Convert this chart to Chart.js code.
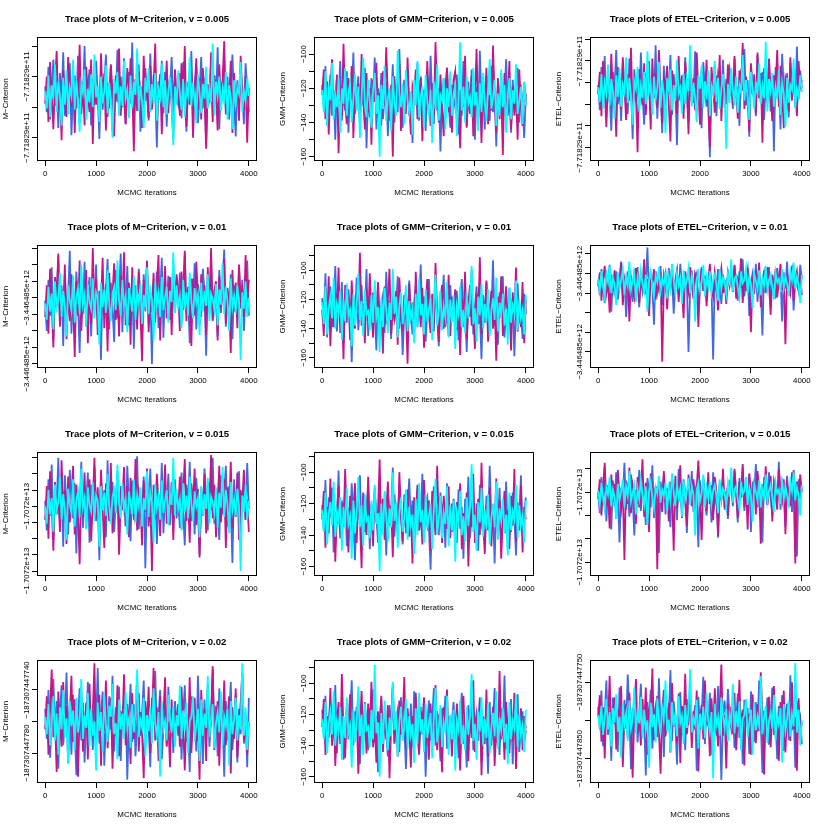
<!DOCTYPE html>
<html>
<head>
<meta charset="utf-8">
<script src="https://cdn.jsdelivr.net/npm/chart.js@4.4.0/dist/chart.umd.min.js"></script>
<style>
  html, body { margin: 0; padding: 0; background: #fff; }
  #wrap { position: relative; width: 830px; height: 830px; }
  #wrap canvas { position: absolute; }
</style>
</head>
<body>
<div id="wrap"></div>
<script>
// x axis
var xTicks = [0, 1000, 2000, 3000, 4000];
var chainColors = ['#4169E1', '#C71585', '#00FFFF'];

// ---- v = 0.005 ----
// M / ETEL values are in relative units; the tick label arrays carry the printed values
var mTicks005 = [20, 45, 70, 95];
var mLabels005 = ['\u22127.71829e+11', '', '\u22127.71829e+11', ''];
var mBlue005 = [62,41,78,35,57,84,46,69,28,73,52,90,38,64,49,81,22,59,71,44,87,33,66,54,95,40,61,76,30,68,47,83,56,19,72,43,63,88,37,58,79,26,65,50,92,39,70,45,85,31,60,74,48,98,36,67,53,80,25,62,42,77,55,34,89,46,71,58,12,66,51,83,40,74,29,63,57,86,44,69,52,47,73,36,82,58,25,66,51,91,40,63,77,32,56,86,44,69,15,61,53,79,38,71,48,94,27,64,57,84,42,70,35,59,88,50,21,67,45,76,55,31,81,60,41];
var mRed005 = [48,70,33,82,55,27,64,91,43,59,18,75,50,37,86,61,45,72,24,67,53,96,39,62,30,78,56,41,84,15,69,47,58,35,89,52,73,26,65,44,80,57,21,71,49,93,38,63,54,31,77,46,85,60,9,68,42,74,55,28,87,50,66,36,79,43,61,97,34,58,72,23,64,51,83,40,70,47,19,76,56,66,38,81,52,95,29,62,47,74,20,58,85,43,69,35,77,54,11,64,49,90,33,71,56,26,80,45,67,99,39,60,52,83,24,73,48,63,34,87,57,42,70,16,61];
var mCyan005 = [58,44,71,37,63,52,80,41,66,55,30,69,47,75,39,61,54,84,43,67,50,25,64,57,76,35,60,49,72,45,88,53,62,33,70,48,58,79,40,65,51,20,68,56,74,38,62,46,83,52,59,36,71,44,66,55,93,42,63,50,28,69,57,77,41,64,48,73,34,60,53,81,45,67,39,58,70,51,14,62,47,75,56,43,68,37,61,54,86,46,65,50,32,72,57,40,64,52,78,44,60,49,97,38,66,55,70,42,59,48,74,35,63,53,27,67,45,61,56,82,41,58,50,69,54];

var gTicks005 = [-160, -150, -140, -130, -120, -110, -100];
var gLabels005 = ['\u2212160', '', '\u2212140', '', '\u2212120', '', '\u2212100'];
var gBlue005 = [-118,-131,-107,-142,-125,-112,-136,-121,-150,-115,-128,-104,-139,-122,-133,-110,-146,-119,-127,-99,-135,-124,-113,-141,-117,-130,-108,-155,-123,-137,-114,-126,-102,-144,-120,-132,-111,-138,-125,-116,-148,-121,-129,-106,-140,-118,-134,-97,-127,-143,-115,-131,-109,-136,-122,-152,-119,-126,-105,-139,-113,-130,-124,-145,-117,-135,-101,-128,-141,-111,-133,-120,-157,-125,-114,-137,-108,-129,-143,-118,-126,-131,-112,-147,-121,-136,-104,-128,-142,-116,-133,-109,-125,-150,-119,-138,-98,-130,-122,-144,-113,-127,-139,-107,-134,-120,-154,-117,-129,-111,-141,-124,-103,-136,-126,-146,-115,-132,-121,-108,-140,-118,-130,-149,-123];
var gRed005 = [-124,-109,-138,-116,-147,-121,-103,-133,-127,-112,-158,-119,-136,-94,-129,-141,-114,-125,-107,-149,-122,-131,-117,-139,-100,-126,-144,-111,-134,-120,-153,-115,-128,-105,-137,-123,-142,-110,-130,-96,-125,-139,-118,-160,-113,-132,-121,-106,-145,-127,-116,-135,-102,-130,-147,-119,-124,-109,-138,-126,-114,-151,-121,-133,-104,-128,-142,-117,-136,-93,-125,-140,-112,-131,-148,-120,-108,-134,-123,-146,-115,-110,-139,-127,-155,-118,-131,-101,-143,-122,-135,-113,-148,-125,-97,-137,-120,-152,-116,-129,-108,-141,-124,-133,-95,-127,-146,-114,-138,-121,-159,-111,-132,-126,-104,-144,-119,-136,-123,-150,-109,-130,-142,-117,-128];
var gCyan005 = [-121,-134,-110,-142,-118,-127,-105,-138,-124,-131,-114,-146,-120,-129,-108,-136,-123,-117,-140,-126,-112,-133,-119,-149,-125,-102,-130,-137,-115,-128,-143,-121,-111,-135,-124,-160,-118,-132,-107,-139,-126,-120,-145,-113,-129,-136,-98,-123,-131,-117,-141,-109,-127,-134,-122,-147,-115,-130,-104,-137,-125,-119,-143,-112,-128,-135,-121,-152,-116,-132,-106,-139,-124,-127,-114,-144,-120,-131,-110,-136,-123,-118,-148,-126,-93,-133,-119,-140,-113,-129,-125,-137,-108,-130,-122,-145,-117,-134,-111,-128,-139,-120,-103,-132,-126,-115,-142,-123,-136,-109,-131,-118,-146,-124,-114,-138,-121,-129,-106,-135,-127,-119,-141,-116,-130];

var eTicks005 = [12, 30, 48, 66, 84, 102];
var eLabels005 = ['\u22127.71829e+11', '', '', '', '\u22127.71829e+11', ''];
var eBlue005 = [64,43,79,52,88,37,70,58,26,75,61,93,48,67,34,82,55,72,40,86,63,19,77,50,69,45,91,57,31,74,62,84,41,66,53,97,36,71,59,24,80,47,68,56,89,39,73,60,14,78,51,65,44,87,58,33,76,63,49,92,42,70,55,28,83,61,46,74,4,67,57,81,38,72,64,50,85,45,69,59,78,71,44,86,53,63,30,77,59,94,47,68,21,81,56,73,38,89,62,50,75,35,66,58,84,42,70,9,79,54,65,27,90,60,48,74,37,83,57,69,45,96,52,76,61];
var eRed005 = [56,75,38,84,61,29,70,49,90,53,66,21,79,58,44,87,63,35,73,51,95,42,68,57,8,77,60,47,82,39,71,65,27,86,54,74,45,93,59,32,69,62,80,48,17,76,56,67,40,88,52,72,36,83,64,23,78,50,70,43,91,58,31,74,66,53,85,46,12,79,61,41,72,57,89,34,68,63,48,81,55,69,47,88,58,36,76,63,99,44,71,55,25,82,60,67,40,91,53,74,16,78,64,49,86,57,34,72,61,93,46,80,56,28,70,65,42,87,51,75,59,38,84,62,68];
var eCyan005 = [62,50,73,44,66,57,81,47,69,59,36,72,54,78,46,64,58,87,49,70,55,31,67,61,79,42,63,53,75,48,92,58,65,39,71,52,61,83,45,68,56,24,70,60,77,43,64,51,85,57,62,40,74,48,69,59,97,46,66,54,33,72,61,80,45,67,52,76,38,63,57,84,50,70,44,61,73,55,11,65,49,78,60,47,71,41,64,58,89,51,68,54,35,75,62,44,67,56,82,48,63,53,100,42,69,59,74,46,62,52,77,39,66,57,29,70,49,64,60,86,45,61,55,72,58];

// ---- v = 0.01 ----
var mTicks01 = [6, 18, 30, 42, 54, 66, 78, 90];
var mLabels01 = ['\u22123.446485e+12', '', '', '', '\u22123.446485e+12', '', '', ''];
var mBlue01 = [52,30,67,41,76,24,58,47,84,35,63,19,71,44,55,88,28,61,38,73,50,14,66,42,80,33,57,69,26,62,46,78,37,54,9,70,43,59,82,31,65,48,22,74,39,56,86,29,60,45,77,34,53,68,17,63,40,75,51,27,71,44,81,36,58,6,66,49,73,32,55,83,25,62,47,70,38,57,79,43,64,50,72,35,61,86,42,56,21,68,47,79,31,64,53,40,75,58,12,69,45,83,37,60,51,26,74,43,66,89,33,57,48,71,24,63,54,39,77,46,67,30,59,81,41];
var mRed01 = [40,63,28,75,49,18,69,55,86,33,60,44,78,24,58,37,71,52,11,66,41,81,30,57,47,74,21,62,35,90,45,68,27,59,50,83,32,64,15,72,43,56,79,38,61,26,70,48,87,34,54,65,20,76,46,59,31,73,42,8,67,53,80,29,57,44,72,36,62,85,23,60,48,77,39,55,69,27,64,51,71,58,30,73,45,88,37,62,52,19,68,41,80,55,34,71,49,63,27,76,43,90,38,59,66,23,70,47,57,82,35,61,51,14,74,44,65,32,78,53,60,40,85,48,67];
var mCyan01 = [50,38,62,44,57,31,66,47,53,72,40,59,48,26,63,52,45,70,36,55,61,42,78,49,56,33,64,51,46,68,39,58,54,20,65,47,60,43,74,50,37,57,62,45,81,52,41,67,48,55,29,61,53,44,70,38,58,50,64,35,56,47,76,42,60,53,23,66,49,57,40,69,45,54,62,36,59,51,87,43,63,48,55,32,67,46,58,41,72,52,39,61,50,56,27,65,44,59,48,71,37,57,53,45,64,34,60,49,79,42,62,51,30,68,47,55,43,63,50,9,58,46,66,40,54];

var gTicks = [-160, -150, -140, -130, -120, -110, -100, -90];
var gLabels = ['\u2212160', '', '\u2212140', '', '\u2212120', '', '\u2212100', ''];
var gBlue01 = [-119,-134,-102,-146,-125,-111,-139,-128,-97,-142,-116,-131,-108,-150,-122,-136,-113,-127,-163,-118,-133,-105,-141,-124,-110,-137,-129,-99,-145,-120,-132,-115,-126,-155,-109,-138,-123,-117,-143,-101,-130,-121,-147,-112,-135,-126,-104,-140,-119,-158,-128,-114,-136,-107,-131,-144,-122,-111,-139,-125,-96,-133,-118,-149,-127,-106,-137,-121,-142,-113,-130,-152,-116,-124,-103,-139,-128,-145,-110,-134,-120,-135,-114,-148,-122,-106,-139,-127,-156,-118,-132,-100,-144,-125,-111,-137,-129,-161,-117,-134,-108,-142,-123,-131,-93,-138,-120,-151,-115,-128,-104,-146,-126,-135,-112,-140,-119,-159,-124,-109,-133,-127,-147,-116,-130];
var gRed01 = [-127,-145,-112,-136,-104,-152,-121,-139,-115,-130,-98,-143,-125,-161,-110,-134,-119,-148,-107,-131,-140,-116,-127,-88,-138,-123,-150,-113,-135,-102,-129,-146,-118,-132,-108,-141,-124,-157,-111,-137,-120,-99,-144,-126,-133,-114,-151,-105,-130,-142,-117,-128,-164,-109,-136,-122,-147,-101,-134,-119,-139,-112,-153,-125,-106,-131,-143,-116,-137,-95,-128,-149,-121,-110,-140,-126,-133,-103,-145,-118,-130,-113,-141,-126,-158,-119,-135,-101,-147,-123,-110,-138,-130,-154,-116,-132,-91,-144,-121,-136,-107,-149,-127,-114,-140,-124,-162,-118,-133,-104,-145,-129,-111,-137,-122,-155,-115,-131,-98,-142,-126,-139,-108,-150,-120];
var gCyan01 = [-122,-137,-111,-144,-126,-118,-133,-105,-140,-123,-129,-114,-148,-120,-135,-109,-131,-127,-152,-116,-138,-124,-102,-134,-121,-145,-113,-130,-128,-141,-117,-136,-107,-132,-125,-156,-119,-139,-112,-127,-143,-122,-134,-99,-130,-118,-146,-124,-115,-137,-128,-110,-142,-121,-133,-126,-150,-116,-139,-106,-131,-123,-144,-113,-135,-127,-119,-148,-122,-103,-138,-129,-114,-141,-125,-132,-108,-146,-120,-136,-117,-154,-124,-130,-111,-139,-127,-143,-115,-133,-121,-97,-137,-126,-149,-118,-131,-109,-140,-123,-135,-113,-145,-128,-119,-134,-105,-142,-122,-130,-116,-138,-126,-151,-112,-136,-124,-129,-107,-141,-120,-133,-127,-144,-117];

var eTicks01 = [12, 30, 48, 66, 84, 102];
var eLabels01 = ['\u22123.446485e+12', '', '', '', '\u22123.446485e+12', ''];
var eBlue01 = [78,64,88,71,57,83,75,92,49,80,69,86,60,77,95,66,82,44,73,87,70,58,84,76,90,53,79,68,85,74,108,62,81,72,37,86,67,78,91,55,83,75,63,89,71,80,47,76,85,65,93,73,59,82,77,12,70,87,66,79,84,52,74,90,68,81,61,78,86,72,5,80,69,88,75,56,83,70,64,85,77,82,67,91,74,59,86,71,97,63,79,88,45,76,84,69,93,58,81,73,27,87,66,78,90,54,83,72,61,89,75,80,40,85,70,95,64,77,86,50,81,74,68,92,79];
var eRed01 = [72,85,59,79,91,66,76,48,83,70,87,62,80,74,94,55,78,68,86,40,81,73,63,89,76,57,84,71,97,65,79,45,82,75,88,60,77,69,85,3,74,83,51,80,72,92,64,78,87,58,81,70,43,86,76,67,90,73,61,84,79,35,75,88,68,82,54,77,93,71,63,85,74,50,80,89,66,78,56,83,73,86,70,92,61,79,74,98,57,83,68,89,76,30,81,65,87,72,94,53,78,85,67,90,75,46,82,71,88,62,77,93,69,80,19,84,73,66,91,59,78,86,70,83,64];
var eCyan01 = [79,68,86,72,62,83,76,91,66,80,74,55,85,70,78,88,64,81,73,95,69,77,84,58,80,71,87,75,67,83,49,78,86,72,63,82,76,90,68,79,74,85,61,81,70,93,77,65,84,73,80,56,87,71,78,89,66,82,75,40,79,85,69,76,92,63,81,72,86,67,78,83,74,59,88,70,80,76,65,84,73,97,68,79,82,71,62,86,75,78,89,66,81,74,52,84,77,70,87,64,80,73,91,69,78,83,72,60,85,76,79,67,88,71,82,75,63,86,78,94,70,81,74,57,83];

// ---- v = 0.015 ----
var mTicks015 = [6, 18, 30, 42, 54, 66, 78, 90];
var mLabels015 = ['\u22121.7072e+13', '', '', '', '\u22121.7072e+13', '', '', ''];
var mBlue015 = [58,36,74,47,85,29,63,52,90,41,68,24,77,55,33,81,60,45,71,19,66,50,87,38,62,57,79,27,70,48,83,43,59,14,75,53,66,31,88,46,61,72,35,57,80,22,69,51,64,39,84,56,28,73,44,65,91,37,60,49,76,8,67,54,82,42,58,70,26,63,47,86,34,62,55,78,40,66,52,74,45,61,38,79,50,25,70,56,87,43,64,33,75,53,18,68,47,82,59,36,72,51,90,41,66,57,29,77,48,63,84,39,69,55,12,74,46,61,80,35,58,71,44,86,52];
var mRed015 = [44,69,30,80,55,21,72,48,63,35,88,51,66,26,76,42,59,84,33,70,53,11,67,46,79,38,61,74,28,57,90,45,68,37,81,52,23,71,60,43,86,34,64,49,77,18,62,56,83,40,69,31,75,54,47,89,36,65,58,25,73,50,82,39,61,6,70,44,78,57,32,67,53,85,41,63,48,72,29,66,54,50,76,37,64,89,43,58,27,71,55,82,40,67,16,60,49,78,34,65,53,92,45,70,31,57,84,42,63,74,23,68,51,87,38,61,47,79,29,66,56,81,44,59,35];
var mCyan015 = [54,41,66,48,60,35,70,51,57,76,44,63,52,29,67,55,49,74,39,59,65,46,82,53,60,37,68,55,50,72,43,62,58,24,69,51,64,47,78,54,41,61,66,49,85,56,45,71,52,59,33,65,57,48,74,42,62,54,68,39,60,51,80,46,64,57,27,70,53,61,44,73,49,58,66,40,63,55,90,47,67,52,59,36,71,50,62,45,76,56,43,65,54,60,31,69,48,63,52,75,41,61,57,49,68,38,64,53,83,46,66,55,34,72,51,59,47,67,54,6,62,50,70,44,58];

var gBlue015 = [-121,-137,-105,-144,-116,-129,-110,-151,-125,-133,-99,-140,-118,-127,-112,-147,-123,-135,-107,-131,-156,-119,-126,-102,-142,-115,-138,-124,-109,-149,-120,-132,-113,-128,-145,-106,-136,-122,-117,-153,-111,-130,-126,-97,-141,-119,-134,-108,-127,-146,-114,-139,-123,-104,-132,-118,-150,-125,-111,-137,-129,-101,-143,-120,-116,-135,-162,-122,-109,-131,-126,-140,-113,-128,-119,-148,-107,-134,-124,-138,-117,-128,-145,-111,-136,-122,-155,-117,-131,-103,-142,-126,-114,-139,-120,-150,-108,-133,-127,-146,-115,-137,-96,-130,-123,-158,-118,-135,-110,-143,-125,-132,-106,-148,-121,-138,-113,-129,-153,-119,-134,-102,-141,-126,-116];
var gRed015 = [-130,-112,-148,-122,-139,-104,-133,-118,-157,-126,-109,-142,-120,-135,-98,-129,-151,-115,-137,-124,-107,-145,-119,-131,-161,-113,-127,-140,-103,-136,-122,-147,-110,-132,-125,-92,-138,-117,-143,-128,-106,-134,-121,-154,-114,-130,-139,-100,-127,-144,-119,-135,-111,-141,-124,-158,-116,-131,-108,-137,-123,-146,-105,-129,-134,-118,-150,-112,-126,-140,-96,-133,-121,-145,-115,-128,-136,-109,-142,-120,-131,-143,-119,-132,-107,-149,-126,-138,-113,-160,-123,-135,-101,-145,-128,-117,-140,-94,-131,-152,-121,-136,-110,-147,-125,-133,-104,-142,-118,-155,-129,-112,-139,-124,-149,-115,-134,-98,-144,-127,-137,-108,-151,-122,-130];
var gCyan015 = [-124,-138,-113,-146,-127,-119,-134,-106,-141,-125,-131,-116,-150,-122,-136,-110,-133,-128,-155,-118,-139,-126,-103,-135,-121,-147,-114,-131,-129,-142,-118,-137,-108,-133,-126,-163,-120,-140,-112,-128,-144,-123,-135,-100,-131,-119,-148,-125,-116,-138,-129,-111,-143,-122,-134,-127,-152,-117,-140,-107,-132,-124,-145,-114,-136,-128,-120,-149,-123,-104,-139,-130,-115,-142,-126,-133,-109,-147,-121,-137,-118,-157,-125,-131,-112,-140,-128,-144,-116,-134,-122,-95,-138,-127,-150,-119,-132,-110,-141,-124,-136,-114,-146,-129,-120,-135,-106,-143,-123,-131,-117,-139,-127,-153,-113,-137,-125,-130,-108,-142,-121,-134,-128,-145,-118];

var eTicks015 = [10, 30, 50, 70, 90];
var eLabels015 = ['\u22121.7072e+13', '', '', '\u22121.7072e+13', ''];
var eBlue015 = [70,52,83,61,91,45,76,66,38,80,58,87,69,27,74,63,95,55,78,49,85,67,33,72,60,89,54,77,64,42,82,71,57,93,48,75,62,18,79,68,86,51,73,59,40,84,66,77,46,90,63,56,81,70,35,76,61,88,53,74,67,23,80,58,83,65,50,78,72,44,87,60,69,31,75,64,82,55,71,47,79,77,58,88,69,44,82,65,91,54,73,61,85,36,79,68,94,57,76,64,27,83,71,59,87,66,50,80,74,62,96,55,78,69,41,84,63,75,53,89,70,15,81,67,73];
var eRed015 = [64,81,50,74,95,58,69,39,85,62,77,47,89,66,55,72,12,80,60,91,52,76,68,43,83,57,71,98,49,78,63,36,86,70,59,75,4,82,65,53,88,61,73,45,79,67,20,84,56,72,93,48,77,62,41,85,69,58,81,51,74,97,64,29,80,66,54,87,60,76,46,83,71,33,78,63,90,57,68,50,75,82,61,90,71,48,79,66,94,57,75,38,86,68,62,80,51,88,73,26,77,65,92,59,70,84,45,78,67,55,89,72,63,81,34,76,69,58,87,74,9,79,64,85,70];
var eCyan015 = [71,60,78,65,55,74,68,83,58,72,66,47,77,63,70,81,57,75,67,88,62,69,76,51,73,64,80,68,59,75,42,70,79,65,56,74,69,84,61,72,67,78,54,73,63,86,70,58,77,66,73,49,80,64,71,82,59,75,68,33,72,78,62,69,85,57,74,65,79,60,71,76,67,52,81,64,73,69,58,77,66,91,61,72,75,64,55,79,68,71,83,59,74,67,45,77,70,63,80,57,73,66,85,62,71,76,65,53,78,69,72,60,82,64,75,68,56,79,71,87,63,74,67,50,76];

// ---- v = 0.02 ----
// M / ETEL values are offsets from -187307447000
var mTicks02 = [-780, -760, -740];
var mLabels02 = ['\u2212187307447780', '', '\u2212187307447740'];
var mBlue02 = [-752,-771,-740,-783,-758,-733,-766,-747,-790,-755,-737,-775,-761,-729,-769,-750,-781,-743,-764,-794,-757,-739,-772,-748,-786,-760,-735,-768,-753,-778,-745,-763,-726,-774,-756,-741,-788,-759,-770,-744,-765,-731,-779,-751,-762,-738,-785,-754,-767,-746,-797,-758,-736,-773,-749,-782,-761,-742,-769,-755,-734,-777,-752,-764,-789,-745,-760,-728,-771,-757,-740,-784,-763,-750,-775,-738,-766,-753,-780,-747,-759,-769,-748,-784,-756,-737,-773,-761,-792,-744,-766,-753,-779,-731,-763,-757,-787,-746,-770,-741,-776,-759,-727,-767,-750,-782,-739,-764,-755,-795,-747,-772,-758,-735,-778,-762,-743,-786,-752,-768,-730,-774,-756,-789,-745];
var mRed02 = [-765,-744,-781,-752,-727,-770,-758,-792,-741,-763,-776,-735,-768,-750,-786,-757,-731,-773,-746,-761,-795,-754,-739,-779,-762,-748,-784,-736,-767,-755,-723,-774,-759,-743,-788,-751,-766,-734,-777,-760,-745,-790,-756,-769,-737,-782,-753,-764,-730,-775,-749,-761,-787,-742,-771,-757,-733,-779,-754,-768,-796,-747,-763,-738,-780,-758,-726,-772,-751,-785,-744,-766,-756,-732,-776,-760,-789,-746,-770,-753,-762,-749,-776,-738,-763,-791,-755,-769,-732,-780,-758,-745,-773,-761,-797,-740,-766,-752,-785,-736,-770,-757,-725,-778,-762,-747,-788,-753,-767,-734,-775,-759,-744,-793,-751,-771,-739,-783,-764,-748,-729,-772,-756,-781,-760];
var mCyan02 = [-757,-768,-749,-775,-761,-744,-772,-755,-781,-751,-765,-740,-770,-758,-787,-747,-763,-753,-778,-745,-767,-759,-733,-771,-756,-764,-742,-776,-752,-769,-760,-791,-748,-766,-754,-779,-743,-762,-773,-750,-757,-736,-768,-761,-784,-746,-765,-755,-771,-741,-763,-758,-777,-749,-767,-753,-727,-770,-759,-764,-745,-782,-756,-766,-751,-774,-739,-762,-769,-754,-795,-747,-765,-760,-772,-743,-758,-767,-750,-776,-756,-763,-737,-771,-753,-766,-748,-780,-760,-757,-744,-773,-762,-752,-785,-746,-769,-755,-764,-731,-770,-758,-749,-777,-761,-754,-767,-741,-775,-757,-763,-752,-788,-747,-768,-759,-745,-772,-756,-765,-723,-769,-751,-778,-760];

var gBlue02 = [-117,-133,-108,-141,-124,-113,-138,-127,-101,-145,-120,-131,-111,-149,-126,-115,-136,-122,-98,-140,-118,-129,-106,-152,-123,-134,-112,-127,-143,-116,-130,-104,-138,-121,-157,-125,-110,-136,-119,-132,-147,-114,-128,-100,-139,-123,-117,-144,-109,-131,-126,-155,-120,-135,-113,-141,-105,-129,-122,-146,-115,-133,-119,-160,-127,-111,-137,-124,-103,-140,-118,-130,-150,-116,-128,-108,-142,-121,-134,-125,-112,-135,-117,-148,-123,-106,-139,-128,-154,-114,-132,-99,-143,-126,-119,-137,-109,-150,-121,-133,-127,-158,-112,-140,-124,-103,-136,-129,-146,-116,-131,-95,-142,-125,-138,-110,-152,-120,-134,-107,-144,-127,-118,-139,-130];
var gRed02 = [-128,-110,-146,-121,-135,-103,-140,-117,-153,-126,-112,-139,-94,-131,-148,-119,-127,-107,-143,-123,-134,-115,-158,-129,-105,-137,-120,-145,-113,-132,-99,-141,-125,-151,-118,-130,-108,-144,-122,-136,-114,-161,-127,-102,-138,-119,-147,-111,-133,-124,-96,-142,-116,-129,-154,-121,-137,-106,-131,-145,-118,-126,-109,-140,-123,-149,-113,-134,-127,-101,-143,-120,-132,-157,-115,-128,-104,-139,-122,-147,-119,-142,-113,-131,-156,-124,-108,-138,-127,-150,-117,-135,-98,-144,-122,-132,-110,-159,-126,-139,-104,-147,-120,-133,-115,-153,-128,-141,-92,-136,-123,-149,-112,-130,-145,-118,-137,-106,-155,-125,-134,-116,-143,-121,-129];
var gCyan02 = [-123,-136,-112,-145,-126,-118,-133,-105,-140,-124,-130,-115,-149,-121,-135,-109,-132,-127,-154,-117,-138,-125,-102,-134,-120,-146,-113,-130,-128,-141,-117,-136,-88,-132,-125,-160,-119,-139,-111,-127,-143,-122,-134,-99,-130,-118,-147,-124,-115,-137,-128,-110,-142,-121,-133,-126,-151,-116,-139,-106,-131,-123,-144,-113,-135,-127,-119,-148,-122,-103,-138,-129,-114,-141,-125,-132,-108,-146,-120,-136,-117,-156,-124,-130,-111,-139,-127,-143,-115,-133,-121,-94,-137,-126,-149,-118,-131,-109,-140,-123,-135,-113,-145,-128,-119,-134,-105,-142,-122,-130,-116,-138,-126,-152,-112,-136,-124,-129,-107,-141,-120,-133,-127,-144,-117];

var eTicks02 = [-850, -800, -750];
var eLabels02 = ['\u2212187307447850', '', '\u2212187307447750'];
var eBlue02 = [-782,-812,-761,-834,-795,-748,-819,-788,-853,-770,-805,-779,-841,-757,-798,-826,-773,-811,-740,-792,-864,-784,-807,-766,-829,-790,-752,-816,-799,-872,-776,-803,-760,-837,-793,-781,-822,-745,-809,-787,-848,-768,-814,-796,-734,-827,-775,-801,-858,-786,-763,-818,-791,-839,-772,-806,-749,-824,-797,-780,-866,-769,-812,-794,-743,-831,-785,-808,-764,-845,-789,-777,-820,-755,-803,-878,-792,-774,-815,-759,-798,-811,-779,-836,-801,-765,-823,-790,-857,-773,-806,-784,-844,-762,-797,-828,-776,-815,-748,-803,-869,-787,-810,-770,-832,-794,-757,-819,-799,-851,-781,-808,-767,-840,-792,-778,-826,-741,-813,-788,-862,-775,-805,-796,-831];
var eRed02 = [-795,-767,-828,-783,-850,-776,-806,-742,-819,-791,-770,-838,-786,-811,-755,-861,-798,-779,-823,-764,-804,-875,-789,-746,-816,-793,-833,-772,-809,-757,-845,-785,-801,-732,-826,-796,-768,-814,-870,-787,-760,-821,-799,-777,-842,-751,-808,-792,-830,-765,-856,-781,-803,-739,-818,-794,-773,-836,-788,-812,-761,-867,-797,-780,-825,-748,-805,-790,-847,-771,-815,-758,-800,-834,-784,-727,-820,-793,-863,-778,-802,-782,-818,-764,-839,-799,-747,-826,-786,-859,-774,-808,-791,-845,-766,-802,-830,-779,-814,-737,-795,-871,-787,-810,-769,-835,-792,-755,-821,-798,-853,-776,-806,-761,-842,-789,-780,-827,-750,-811,-796,-866,-771,-815,-803];
var eCyan02 = [-793,-808,-781,-819,-797,-772,-812,-789,-834,-784,-803,-766,-815,-795,-849,-779,-806,-791,-827,-774,-811,-798,-757,-817,-788,-804,-769,-824,-786,-813,-800,-862,-777,-809,-792,-829,-771,-801,-818,-783,-796,-748,-814,-799,-841,-776,-807,-790,-821,-768,-803,-794,-831,-780,-810,-787,-733,-816,-797,-805,-773,-837,-791,-812,-782,-823,-764,-800,-815,-789,-876,-778,-806,-796,-820,-770,-794,-811,-785,-828,-792,-804,-752,-817,-788,-809,-775,-839,-798,-793,-772,-822,-802,-786,-845,-776,-813,-795,-807,-742,-818,-797,-781,-830,-801,-790,-811,-767,-826,-794,-805,-784,-855,-779,-814,-799,-774,-821,-792,-808,-725,-816,-786,-833,-800];

var FONT = '"Liberation Sans", Arial, Helvetica, sans-serif';
Chart.defaults.font.family = FONT;
Chart.defaults.color = '#000';

var panels = [
  {title: 'Trace plots of M\u2212Criterion, v = 0.005', ylab: 'M\u2212Criterion', chains: [mBlue005, mRed005, mCyan005], ymin: 1, ymax: 102.4, ticks: mTicks005, labels: mLabels005},
  {title: 'Trace plots of GMM\u2212Criterion, v = 0.005', ylab: 'GMM\u2212Criterion', chains: [gBlue005, gRed005, gCyan005], ymin: -162.5, ymax: -90, ticks: gTicks005, labels: gLabels005},
  {title: 'Trace plots of ETEL\u2212Criterion, v = 0.005', ylab: 'ETEL\u2212Criterion', chains: [eBlue005, eRed005, eCyan005], ymin: 0.8, ymax: 103.9, ticks: eTicks005, labels: eLabels005},
  {title: 'Trace plots of M\u2212Criterion, v = 0.01', ylab: 'M\u2212Criterion', chains: [mBlue01, mRed01, mCyan01], ymin: 3.1, ymax: 92.2, ticks: mTicks01, labels: mLabels01},
  {title: 'Trace plots of GMM\u2212Criterion, v = 0.01', ylab: 'GMM\u2212Criterion', chains: [gBlue01, gRed01, gCyan01], ymin: -167, ymax: -82.6, ticks: gTicks, labels: gLabels},
  {title: 'Trace plots of ETEL\u2212Criterion, v = 0.01', ylab: 'ETEL\u2212Criterion', chains: [eBlue01, eRed01, eCyan01], ymin: -2.8, ymax: 110.2, ticks: eTicks01, labels: eLabels01},
  {title: 'Trace plots of M\u2212Criterion, v = 0.015', ylab: 'M\u2212Criterion', chains: [mBlue015, mRed015, mCyan015], ymin: 2.3, ymax: 94.2, ticks: mTicks015, labels: mLabels015},
  {title: 'Trace plots of GMM\u2212Criterion, v = 0.015', ylab: 'GMM\u2212Criterion', chains: [gBlue015, gRed015, gCyan015], ymin: -166, ymax: -87.2, ticks: gTicks, labels: gLabels},
  {title: 'Trace plots of ETEL\u2212Criterion, v = 0.015', ylab: 'ETEL\u2212Criterion', chains: [eBlue015, eRed015, eCyan015], ymin: -1.7, ymax: 104.3, ticks: eTicks015, labels: eLabels015},
  {title: 'Trace plots of M\u2212Criterion, v = 0.02', ylab: 'M\u2212Criterion', chains: [mBlue02, mRed02, mCyan02], ymin: -799, ymax: -721, ticks: mTicks02, labels: mLabels02},
  {title: 'Trace plots of GMM\u2212Criterion, v = 0.02', ylab: 'GMM\u2212Criterion', chains: [gBlue02, gRed02, gCyan02], ymin: -164, ymax: -85, ticks: gTicks, labels: gLabels},
  {title: 'Trace plots of ETEL\u2212Criterion, v = 0.02', ylab: 'ETEL\u2212Criterion', chains: [eBlue02, eRed02, eCyan02], ymin: -882, ymax: -721, ticks: eTicks02, labels: eLabels02}
];

var wrap = document.getElementById('wrap');

function toPoints(values) {
  // samples are spread evenly over the 4000 iterations
  return values.map(function(v, i) {
    return {x: i * 4000 / (values.length - 1), y: v};
  });
}

function makePanel(p, col, row) {
  var left = Math.round(col * 830 / 3);
  var top = Math.round(row * 207.5);
  var w = Math.round((col + 1) * 830 / 3) - left;
  var h = Math.round((row + 1) * 207.5) - top;

  var canvas = document.createElement('canvas');
  canvas.width = w;
  canvas.height = h;
  canvas.style.left = left + 'px';
  canvas.style.top = top + 'px';
  wrap.appendChild(canvas);

  var datasets = p.chains.map(function(values, k) {
    return {
      data: toPoints(values),
      borderColor: chainColors[k],
      borderWidth: 1.8,
      pointRadius: 0,
      tension: 0,
      fill: false,
      order: 3 - k
    };
  });

  var frame = {
    id: 'frame',
    afterDraw: function(chart) {
      var ctx = chart.ctx;
      var a = chart.chartArea;
      var ys = chart.scales.y;
      ctx.save();
      ctx.strokeStyle = '#000';
      ctx.lineWidth = 1;
      var x0 = Math.round(a.left), y0 = Math.round(a.top);
      ctx.strokeRect(x0 + 0.5, y0 + 0.5, Math.round(a.right) - x0 - 1, Math.round(a.bottom) - y0 - 1);
      // y tick labels, parallel to the axis
      ctx.fillStyle = '#000';
      ctx.font = '7.92px ' + FONT;
      ctx.textAlign = 'center';
      ctx.textBaseline = 'alphabetic';
      p.ticks.forEach(function(v, i) {
        if (!p.labels[i]) return;
        ctx.save();
        ctx.translate(a.left - 8.5, ys.getPixelForValue(v));
        ctx.rotate(-Math.PI / 2);
        ctx.fillText(p.labels[i], 0, 0);
        ctx.restore();
      });
      ctx.restore();
    }
  };

  new Chart(canvas, {
    type: 'line',
    data: {datasets: datasets},
    options: {
      responsive: false,
      animation: false,
      devicePixelRatio: 1,
      layout: {padding: {left: 0, right: w - 257, top: 0, bottom: 0}},
      plugins: {
        legend: {display: false},
        tooltip: {enabled: false},
        title: {
          display: true,
          text: p.title,
          fullSize: false,
          color: '#000',
          font: {size: 9.6, weight: 'bold'},
          padding: {top: 13.2, bottom: 12.3}
        }
      },
      scales: {
        x: {
          type: 'linear',
          min: -160,
          max: 4160,
          afterBuildTicks: function(s) { s.ticks = xTicks.map(function(v) { return {value: v}; }); },
          afterFit: function(s) { s.height = 47; },
          grid: {drawOnChartArea: false, drawTicks: true, tickLength: 5, color: '#000', lineWidth: 1},
          border: {display: false},
          ticks: {
            color: '#000', font: {size: 7.92}, padding: 3.5, maxRotation: 0, autoSkip: false,
            callback: function(v) { return String(v); }
          },
          title: {display: true, text: 'MCMC Iterations', color: '#000', font: {size: 7.92}, padding: {top: 0, bottom: 10.3}}
        },
        y: {
          type: 'linear',
          min: p.ymin,
          max: p.ymax,
          afterBuildTicks: function(s) { s.ticks = p.ticks.map(function(v) { return {value: v}; }); },
          afterFit: function(s) { s.width = 37; },
          grid: {drawOnChartArea: false, drawTicks: true, tickLength: 5, color: '#000', lineWidth: 1},
          border: {display: false},
          ticks: {display: false},
          title: {display: true, text: p.ylab, color: '#000', font: {size: 7.92}, padding: {top: 0.8, bottom: 0}}
        }
      }
    },
    plugins: [frame]
  });
}

panels.forEach(function(p, i) {
  makePanel(p, i % 3, Math.floor(i / 3));
});
</script>
</body>
</html>
